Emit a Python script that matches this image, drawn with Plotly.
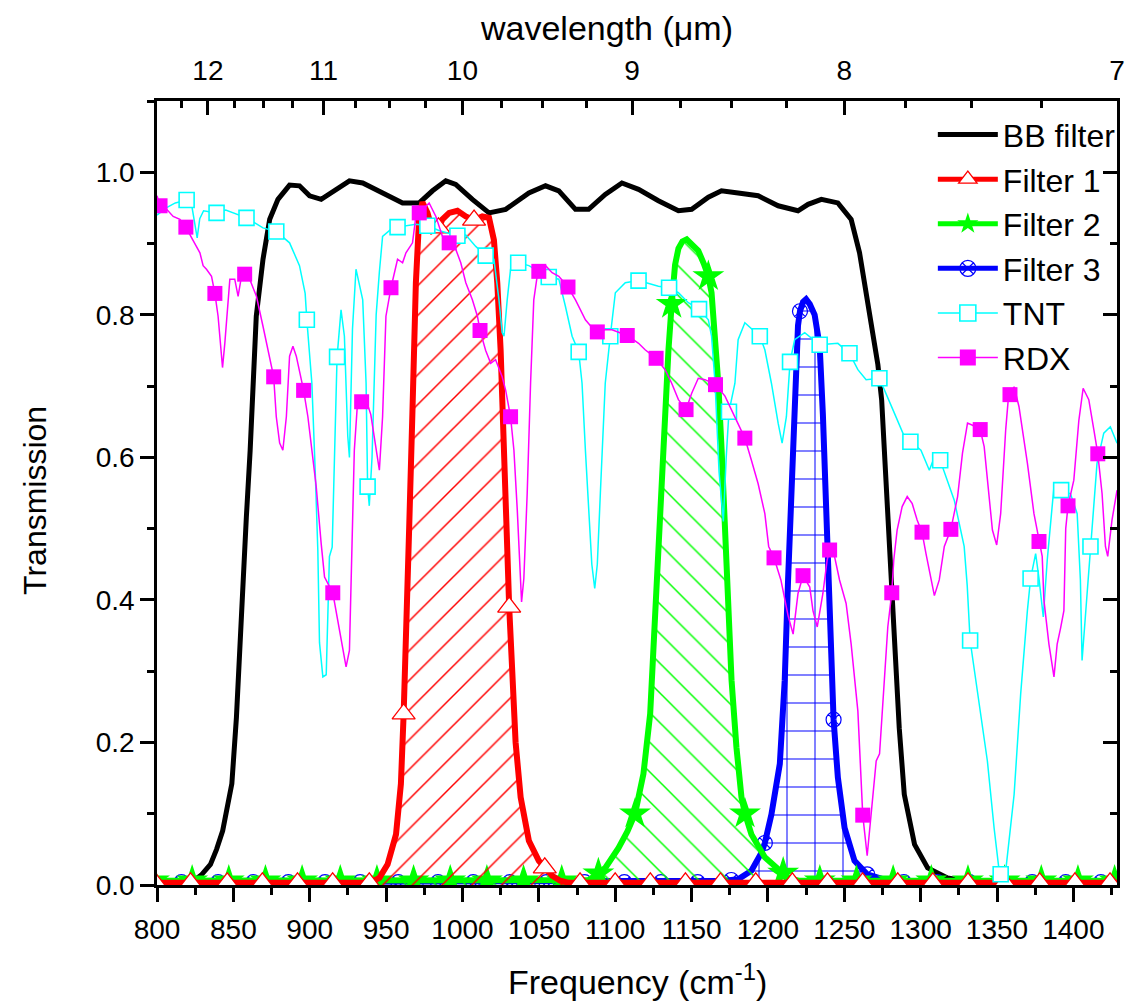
import numpy as np
import plotly.graph_objects as go

FONT = "Liberation Sans, Arial, sans-serif"

# ---------------- data ----------------
BB_X = [800, 810, 818, 824, 829, 835, 839, 843, 849, 852, 855, 858.5, 861, 863, 865, 869.4, 873.8,
        879.2, 886.8, 893.3, 899.9, 907.5, 914, 926, 934.7, 947.7, 960.8, 971.7, 980.4, 989.1, 995.6,
        1006.5, 1017.4, 1028.3, 1043.5, 1054.4, 1063.1, 1074, 1082.6, 1093.5, 1104.4, 1115.3, 1128.3,
        1141.4, 1150.1, 1161, 1169.6, 1180.5, 1193.6, 1206.7, 1219.7, 1226.3, 1235, 1245.8, 1254.5,
        1260, 1263.3, 1267.6, 1272, 1274.5, 1277, 1280.5, 1283, 1286, 1289.3, 1296, 1304.6, 1317.6,
        1328.5, 1350, 1428.6]
BB_T = [0.004, 0.004, 0.005, 0.006, 0.014, 0.029, 0.05, 0.076, 0.142, 0.235, 0.376, 0.516, 0.61,
        0.70, 0.798, 0.878, 0.934, 0.962, 0.982, 0.981, 0.967, 0.962, 0.971, 0.988, 0.985, 0.971,
        0.957, 0.957, 0.974, 0.988, 0.983, 0.962, 0.943, 0.948, 0.971, 0.981, 0.974, 0.948, 0.948,
        0.969, 0.985, 0.976, 0.960, 0.946, 0.948, 0.965, 0.974, 0.971, 0.967, 0.953, 0.946, 0.955,
        0.962, 0.957, 0.934, 0.887, 0.845, 0.784, 0.73, 0.68, 0.58, 0.44, 0.36, 0.22, 0.127, 0.057,
        0.024, 0.010, 0.006, 0.005, 0.004]

F1_X = [799, 822, 846, 869, 892, 915, 939, 945.6, 951, 956.5, 959.7, 961.5, 963, 965.1, 967.2, 969.5,
        971.7, 973.8, 977.1, 980.4, 984.3, 986.9, 991.3, 996.7, 1002.2, 1007.6, 1013, 1017.4, 1020.6,
        1022.8, 1025, 1027.2, 1029.3, 1030.6, 1032.6, 1034.8, 1038.1, 1043.5, 1050, 1053.9, 1058.7,
        1064, 1069.6, 1077, 1100, 1123, 1146, 1169, 1192, 1216, 1239, 1262, 1285, 1308, 1331, 1355,
        1378, 1401, 1424, 1428.6]
F1_T = [0.003, 0.003, 0.003, 0.003, 0.003, 0.003, 0.003, 0.010, 0.029, 0.071, 0.142, 0.24, 0.33, 0.50,
        0.66, 0.845, 0.938, 0.958, 0.943, 0.918, 0.922, 0.934, 0.943, 0.946, 0.938, 0.933, 0.938,
        0.936, 0.905, 0.845, 0.75, 0.60, 0.47, 0.39, 0.30, 0.20, 0.123, 0.062, 0.034, 0.024, 0.013,
        0.006, 0.003, 0.003, 0.003, 0.003, 0.003, 0.003, 0.003, 0.003, 0.003, 0.003, 0.003, 0.003,
        0.003, 0.003, 0.003, 0.003, 0.003, 0.003]
F1_MARK_X = [799, 822, 846, 869, 892, 915, 939, 961.5, 984.3, 1007.6, 1030.6, 1053.9, 1077, 1100, 1123,
             1146, 1169, 1192, 1216, 1239, 1262, 1285, 1308, 1331, 1355, 1378, 1401, 1424]

F2_X = [798, 823, 847, 871, 895, 920, 944, 968, 992, 1016, 1040, 1065, 1082.6, 1089, 1093.5, 1102.2,
        1108, 1113, 1118.5, 1122.9, 1126.2, 1129.4, 1132.7, 1134.9, 1137, 1139.2, 1141.4, 1144, 1146.8,
        1150, 1154.4, 1158, 1161, 1163.1, 1165.4, 1167.5, 1169.7, 1170.8, 1173, 1176.2, 1179.4, 1182.7,
        1185, 1189.2, 1198, 1206.7, 1210, 1213.2, 1220, 1234, 1258, 1282, 1307, 1331, 1355, 1379,
        1403, 1427, 1428.6]
F2_T = [0.006, 0.006, 0.006, 0.006, 0.006, 0.006, 0.006, 0.006, 0.006, 0.006, 0.006, 0.006, 0.007,
        0.016, 0.024, 0.052, 0.075, 0.100, 0.156, 0.240, 0.381, 0.55, 0.657, 0.751, 0.815, 0.870,
        0.893, 0.903, 0.906, 0.900, 0.890, 0.872, 0.854, 0.831, 0.775, 0.704, 0.610, 0.55, 0.428,
        0.287, 0.193, 0.123, 0.100, 0.071, 0.039, 0.022, 0.017, 0.010, 0.006, 0.006, 0.006, 0.006,
        0.006, 0.006, 0.006, 0.006, 0.006, 0.006, 0.006]
F2_MARK_X = [798, 823, 847, 871, 895, 920, 944, 968, 992, 1016, 1040, 1065, 1089, 1113, 1137, 1161,
             1185, 1210, 1234, 1258, 1282, 1307, 1331, 1355, 1379, 1403, 1427]

F3_X = [800, 816, 840, 863, 886, 910, 933, 958, 984, 1007, 1031, 1055, 1080, 1106, 1130, 1154, 1171.9,
        1176, 1180.5, 1189.2, 1195.7, 1198, 1202.3, 1207.8, 1211, 1213.2, 1215.3, 1217.5, 1219.7, 1221,
        1223, 1225, 1227.4, 1230.6, 1233.9, 1236, 1238.2, 1240, 1241.5, 1243, 1245.8, 1250.2, 1256.7,
        1265, 1278.5, 1289, 1311, 1332, 1352, 1373, 1395, 1418, 1428.6]
F3_T = [0.004, 0.004, 0.004, 0.004, 0.004, 0.004, 0.004, 0.004, 0.004, 0.004, 0.004, 0.004, 0.004,
        0.004, 0.004, 0.004, 0.006, 0.007, 0.008, 0.020, 0.045, 0.059, 0.099, 0.170, 0.287, 0.428,
        0.56, 0.70, 0.785, 0.805, 0.818, 0.822, 0.815, 0.80, 0.756, 0.66, 0.53, 0.40, 0.30, 0.232,
        0.151, 0.080, 0.034, 0.015, 0.006, 0.004, 0.004, 0.004, 0.004, 0.004, 0.004, 0.004, 0.004]
F3_MARK_X = [816, 840, 863, 886, 910, 933, 958, 984, 1007, 1031, 1055, 1080, 1106, 1130, 1154, 1176,
             1198, 1221, 1243, 1265, 1289, 1311, 1332, 1352, 1373, 1395, 1418]

TNT_X = [800, 806, 812, 819.4, 823, 825, 826.3, 828, 830.5, 839, 845, 858.6, 869.4, 878.1, 886.8, 893.3,
         897, 898.1, 901.4, 903.6, 905.3, 906.4, 908.6, 910.8, 911.8, 912.9, 914.7, 916.2, 917.9,
         920.5, 922.7, 924.9, 926, 928, 930.3, 934.7, 936.9, 937.9, 939, 940.8, 943.5, 945.6, 947.7,
         954.2, 957.5, 969.5, 977, 985, 996.7, 1002.2, 1008.7, 1015.2, 1020.6, 1023.9, 1026, 1027.2,
         1029.3, 1031.5, 1036.5, 1043.5, 1056.5, 1063.1, 1067.4, 1071.8, 1076.1, 1078.3, 1080.5,
         1082.6, 1084.7, 1086.6, 1088.3, 1090.3, 1093.5, 1096.8, 1100.1, 1106.6, 1115.3, 1128.3,
         1135.3, 1141.4, 1147.9, 1154.9, 1161, 1163.1, 1165.4, 1168, 1170.8, 1172.7, 1174.5, 1178.4,
         1180.5, 1184.9, 1194.7, 1198, 1202.3, 1206.7, 1209.3, 1212.1, 1214.5, 1217.5, 1224.1, 1233.9,
         1245.8, 1253.4, 1258.9, 1264.3, 1273, 1282.8, 1289.4, 1293.3, 1300.2, 1305.7, 1310, 1312.8,
         1317.6, 1322, 1328.5, 1330.5, 1332.4, 1337.2, 1343.7, 1348.1, 1351.4, 1352.4, 1355.7, 1361.2,
         1365.5, 1369.9, 1372, 1375.3, 1377.5, 1380.3, 1382.9, 1387.3, 1392, 1398.1, 1402.5, 1404.6,
         1405.7, 1409, 1411.2, 1415.5, 1419.9, 1424.2, 1428.6]
TNT_T = [0.940, 0.950, 0.957, 0.961, 0.950, 0.925, 0.908, 0.935, 0.946, 0.943, 0.947, 0.936, 0.922,
         0.917, 0.901, 0.869, 0.83, 0.793, 0.704, 0.58, 0.47, 0.34, 0.292, 0.295, 0.376, 0.461, 0.474,
         0.61, 0.741, 0.807, 0.77, 0.63, 0.60, 0.78, 0.864, 0.821, 0.704, 0.559, 0.532, 0.60, 0.80,
         0.86, 0.910, 0.922, 0.923, 0.927, 0.925, 0.918, 0.911, 0.912, 0.896, 0.883, 0.878, 0.821,
         0.775, 0.770, 0.821, 0.864, 0.873, 0.869, 0.853, 0.850, 0.812, 0.770, 0.748, 0.704, 0.61,
         0.526, 0.45, 0.416, 0.45, 0.55, 0.704, 0.77, 0.831, 0.845, 0.848, 0.840, 0.838, 0.831, 0.817,
         0.808, 0.793, 0.770, 0.704, 0.58, 0.51, 0.60, 0.664, 0.704, 0.765, 0.789, 0.77, 0.751, 0.704,
         0.648, 0.62, 0.657, 0.734, 0.765, 0.775, 0.758, 0.760, 0.746, 0.723, 0.709, 0.711, 0.662,
         0.629, 0.622, 0.610, 0.582, 0.606, 0.596, 0.568, 0.540, 0.475, 0.42, 0.343, 0.268, 0.174,
         0.080, 0.020, 0.015, 0.020, 0.127, 0.268, 0.385, 0.43, 0.465, 0.43, 0.376, 0.456, 0.559,
         0.554, 0.549, 0.521, 0.428, 0.315, 0.409, 0.475, 0.592, 0.634, 0.643, 0.62]
TNT_MARK_X = [819.4, 839, 858.6, 878.1, 898.1, 917.9, 937.9, 957.5, 977, 996.7, 1015.2, 1036.5, 1056.5,
              1076.1, 1096.8, 1115.3, 1135.3, 1154.9, 1174.5, 1194.7, 1214.5, 1233.9, 1253.4, 1273,
              1293.3, 1312.8, 1332.4, 1352.4, 1372, 1392, 1411.2]

RDX_X = [800, 802, 806.3, 810.6, 815, 818.9, 822.7, 825.9, 828.1, 830.2, 832.4, 835.7, 837.9, 840,
         842.2, 842.9, 844.4, 847.7, 850.9, 853.1, 855.3, 857.4, 860.7, 865.1, 869.4, 872.6, 876.4,
         878.1, 880.3, 882.4, 884.7, 886.8, 889, 891.2, 896, 898.8, 902, 904.2, 907.5, 909.7, 915.1,
         917.3, 920.6, 923.8, 926, 927.1, 929.2, 931.4, 933, 934, 937, 940, 943.4, 945.6, 947.7, 949.9,
         953.2, 957.5, 960.8, 963, 967.3, 969.5, 971.7, 978.2, 982.6, 986.9, 991.3, 995.6, 998.9,
         1002.2, 1006.5, 1009.8, 1011.5, 1015.2, 1018.5, 1021.7, 1026, 1028.3, 1031.5, 1033.7, 1035.9,
         1037, 1038.1, 1038.7, 1040.2, 1042.4, 1044.6, 1046.7, 1048.9, 1050, 1054.4, 1058.7, 1063.1,
         1069.1, 1074, 1080.5, 1086, 1088.3, 1093.5, 1097.9, 1107.9, 1115.3, 1119.6, 1126.8, 1132.7,
         1137, 1141.4, 1146.4, 1150.1, 1154.4, 1158.8, 1165.7, 1171.9, 1176.2, 1180.5, 1184.9, 1189.2,
         1193.6, 1198, 1200.5, 1204, 1208.5, 1213.2, 1216.5, 1219.7, 1223, 1227.4, 1229.5, 1232.3,
         1236, 1238.8, 1240.4, 1243.6, 1246.9, 1251.2, 1254.5, 1258.9, 1261, 1262.1, 1265, 1267.6,
         1270.9, 1273.1, 1276.3, 1278.5, 1281.1, 1282.4, 1284.6, 1287.9, 1291.2, 1294.5, 1297.7,
         1300.9, 1303.5, 1306.7, 1309, 1312.2, 1315.5, 1319.8, 1324.2, 1327.4, 1330.7, 1334, 1339,
         1341.6, 1343.7, 1347, 1349.8, 1352.4, 1355.7, 1357.9, 1358.5, 1361.2, 1364.4, 1369.9, 1374.2,
         1377.5, 1379.6, 1380.7, 1384, 1387.3, 1389.4, 1391.6, 1393.8, 1395, 1396.5, 1400.3, 1403.6,
         1406.4, 1410.1, 1413.4, 1416, 1418.8, 1421, 1422.5, 1425.3, 1428.6]
RDX_T = [0.967, 0.953, 0.948, 0.938, 0.934, 0.923, 0.908, 0.896, 0.887, 0.869, 0.864, 0.854, 0.830,
         0.798, 0.742, 0.726, 0.760, 0.850, 0.850, 0.826, 0.854, 0.857, 0.850, 0.826, 0.784, 0.751,
         0.713, 0.657, 0.620, 0.610, 0.657, 0.742, 0.756, 0.742, 0.694, 0.657, 0.601, 0.560, 0.479,
         0.432, 0.410, 0.385, 0.348, 0.306, 0.329, 0.423, 0.61, 0.68, 0.685, 0.678, 0.68, 0.66, 0.61,
         0.582, 0.657, 0.798, 0.838, 0.878, 0.873, 0.887, 0.901, 0.938, 0.943, 0.957, 0.938, 0.910,
         0.901, 0.892, 0.873, 0.845, 0.821, 0.798, 0.778, 0.750, 0.732, 0.737, 0.713, 0.694, 0.657,
         0.61, 0.526, 0.47, 0.428, 0.397, 0.43, 0.55, 0.704, 0.821, 0.854, 0.861, 0.869, 0.859, 0.854,
         0.839, 0.821, 0.793, 0.779, 0.776, 0.779, 0.779, 0.771, 0.760, 0.751, 0.739, 0.723, 0.704,
         0.681, 0.667, 0.690, 0.711, 0.709, 0.702, 0.686, 0.667, 0.648, 0.627, 0.596, 0.563, 0.521,
         0.475, 0.459, 0.428, 0.378, 0.352, 0.409, 0.434, 0.418, 0.385, 0.362, 0.409, 0.456, 0.47,
         0.461, 0.428, 0.395, 0.338, 0.244, 0.15, 0.098, 0.041, 0.104, 0.174, 0.184, 0.292, 0.362,
         0.41, 0.456, 0.498, 0.531, 0.545, 0.535, 0.512, 0.495, 0.465, 0.428, 0.406, 0.428, 0.475,
         0.499, 0.545, 0.606, 0.648, 0.645, 0.639, 0.615, 0.568, 0.498, 0.477, 0.521, 0.639, 0.695,
         0.688, 0.699, 0.671, 0.592, 0.521, 0.482, 0.461, 0.40, 0.338, 0.292, 0.338, 0.36, 0.385,
         0.50, 0.532, 0.568, 0.652, 0.697, 0.681, 0.639, 0.605, 0.549, 0.475, 0.461, 0.512, 0.554]
RDX_MARK_X = [802, 818.9, 837.9, 857.4, 876.4, 896, 915.1, 934, 953.2, 971.7, 991.3, 1011.5, 1031.5,
              1050, 1069.1, 1088.3, 1107.9, 1126.8, 1146.4, 1165.7, 1184.9, 1204, 1223, 1240.4,
              1262.1, 1281.1, 1300.9, 1319.8, 1339, 1358.5, 1377.5, 1396.5, 1416]

WL_TICKS = [12, 11, 10, 9, 8, 7]          # top axis labels (µm)
X_RANGE = [800, 10000 / 7]
Y_RANGE = [0, 1.1]

# ---------------- figure ----------------
fig = go.Figure()


def curve(x, y, color, width, fill=None, shape=None, psize=None):
    kw = {}
    if fill:
        kw = dict(fill="tozeroy", fillcolor="rgba(255,255,255,0)",
                  fillpattern=dict(shape=shape, fgcolor=color, bgcolor="rgba(255,255,255,0)",
                                   size=psize, solidity=0.07, fillmode="replace"))
    fig.add_trace(go.Scatter(x=x, y=y, mode="lines", line=dict(color=color, width=width),
                             showlegend=False, hoverinfo="skip", **kw))


def marks(x, y, mx, symbol, size, color, fillc, lw):
    my = np.interp(mx, x, y)
    fig.add_trace(go.Scatter(x=mx, y=my, mode="markers", showlegend=False, hoverinfo="skip",
                             marker=dict(symbol=symbol, size=size, color=fillc,
                                         line=dict(color=color, width=lw))))


curve(BB_X, BB_T, "black", 5)
curve(F3_X, F3_T, "#0000FF", 6, True, "+", 28)
marks(F3_X, F3_T, F3_MARK_X, "circle-x-open", 15, "#0000FF", "#0000FF", 1.2)
curve(F2_X, F2_T, "#00FF00", 6, True, "\\", 21)
marks(F2_X, F2_T, F2_MARK_X, "star", 24, "#00FF00", "#00FF00", 0)
curve(F1_X, F1_T, "#FF0000", 6, True, "/", 21)
marks(F1_X, F1_T, F1_MARK_X, "triangle-up", 20, "#FF0000", "white", 1.3)
curve(TNT_X, TNT_T, "#00FFFF", 1.5)
marks(TNT_X, TNT_T, TNT_MARK_X, "square", 15, "#00FFFF", "white", 1.6)
curve(RDX_X, RDX_T, "#FF00FF", 1.5)
marks(RDX_X, RDX_T, RDX_MARK_X, "square", 15, "#FF00FF", "#FF00FF", 0)

# legend entries
LEG = [("BB filter", "black", 5, None, None, None),
       ("Filter 1", "#FF0000", 5, "triangle-up", "white", 1.3),
       ("Filter 2", "#00FF00", 5, "star", "#00FF00", 0),
       ("Filter 3", "#0000FF", 5, "circle-x-open", "#0000FF", 1.2),
       ("TNT", "#00FFFF", 1.5, "square", "white", 1.6),
       ("RDX", "#FF00FF", 1.5, "square", "#FF00FF", 0)]
for name, col, w, sym, fc, lw in LEG:
    if sym is None:
        fig.add_trace(go.Scatter(x=[None], y=[None], mode="lines", name=name,
                                 line=dict(color=col, width=w)))
    else:
        fig.add_trace(go.Scatter(x=[None], y=[None], mode="lines+markers", name=name,
                                 line=dict(color=col, width=w),
                                 marker=dict(symbol=sym, size=16, color=fc,
                                             line=dict(color=col, width=lw))))

# carrier trace for the top / right axes
fig.add_trace(go.Scatter(x=BB_X, y=BB_T, xaxis="x2", yaxis="y2", mode="lines",
                         line=dict(width=0, color="rgba(0,0,0,0)"), showlegend=False,
                         hoverinfo="skip"))

wl_minor = [w / 100 for w in range(725, 1251, 25) if w % 100 != 0]

tickfont = dict(family=FONT, size=28, color="black")
fig.update_layout(
    width=1129, height=995,
    margin=dict(l=149, r=17, t=93, b=118),
    paper_bgcolor="white", plot_bgcolor="white",
    font=dict(family=FONT, color="black"),
    showlegend=True,
    legend=dict(x=1.004, xanchor="right", y=0.992, yanchor="top",
                font=dict(family=FONT, size=32, color="black"),
                bgcolor="rgba(0,0,0,0)", itemwidth=60, tracegroupgap=0),
    xaxis=dict(range=X_RANGE, showline=True, linecolor="black", linewidth=2.5, mirror=False,
               ticks="outside", ticklen=14, tickwidth=2.5, tickcolor="black",
               tick0=800, dtick=50, tickfont=tickfont, showgrid=False, zeroline=False,
               ticklabelstandoff=4,
               minor=dict(ticks="outside", ticklen=7, tickwidth=2.5, tickcolor="black", dtick=25,
                          showgrid=False)),
    xaxis2=dict(range=X_RANGE, overlaying="x", side="top", anchor="y", showline=True,
                linecolor="black", linewidth=2.5, ticks="inside", ticklen=14, tickwidth=2.5,
                tickcolor="black", tickmode="array",
                tickvals=[10000 / w for w in WL_TICKS], ticktext=[str(w) for w in WL_TICKS],
                tickfont=tickfont, showgrid=False, zeroline=False, ticklabelstandoff=7,
                minor=dict(ticks="inside", ticklen=7, tickwidth=2.5, tickcolor="black",
                           tickmode="array", tickvals=[10000 / w for w in wl_minor],
                           showgrid=False)),
    yaxis=dict(range=Y_RANGE, showline=True, linecolor="black", linewidth=2.5,
               ticks="outside", ticklen=14, tickwidth=2.5, tickcolor="black",
               tick0=0, dtick=0.2, tickformat=".1f", tickfont=tickfont, showgrid=False,
               zeroline=False,
               minor=dict(ticks="outside", ticklen=7, tickwidth=2.5, tickcolor="black",
                          dtick=0.1, showgrid=False)),
    yaxis2=dict(range=Y_RANGE, overlaying="y", side="right", anchor="x", showline=True,
                linecolor="black", linewidth=2.5, ticks="inside", ticklen=14, tickwidth=2.5,
                tickcolor="black", tick0=0, dtick=0.2, showticklabels=False, showgrid=False,
                zeroline=False,
                minor=dict(ticks="inside", ticklen=7, tickwidth=2.5, tickcolor="black",
                           dtick=0.1, showgrid=False)),
    annotations=[
        dict(text="Frequency (cm<sup>-1</sup>)", xref="paper", yref="paper", x=0.5, y=-0.121,
             xanchor="center", yanchor="middle", showarrow=False,
             font=dict(family=FONT, size=34, color="black")),
        dict(text="wavelength (μm)", xref="paper", yref="paper", x=0.468, y=1.093,
             xanchor="center", yanchor="middle", showarrow=False,
             font=dict(family=FONT, size=34, color="black")),
        dict(text="Transmission", xref="paper", yref="paper", x=-0.127, y=0.49,
             xanchor="center", yanchor="middle", showarrow=False, textangle=-90,
             font=dict(family=FONT, size=32, color="black")),
    ],
)

fig.write_html("out.html")
